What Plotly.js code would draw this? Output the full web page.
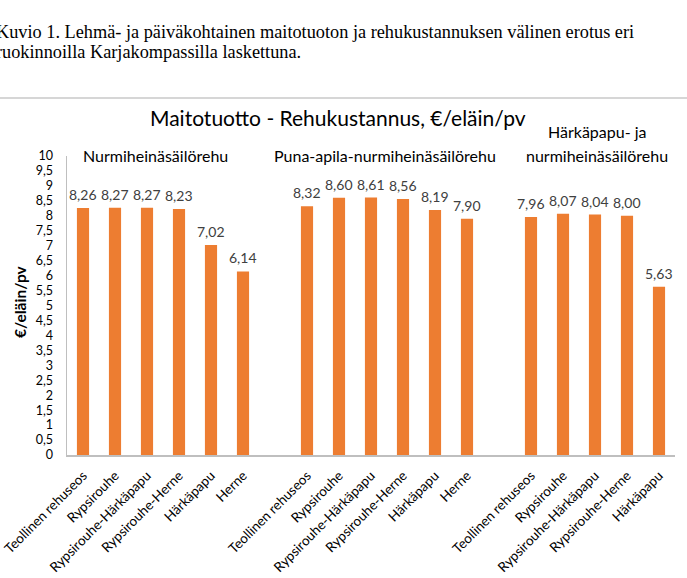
<!DOCTYPE html>
<html>
<head>
<meta charset="utf-8">
<script src="https://cdn.plot.ly/plotly-3.0.1.min.js"></script>
<style>
html,body{margin:0;padding:0;background:#fff;}
#chart{width:687px;height:578px;}
</style>
</head>
<body>
<div id="chart"></div>
<script>
// ---- data ----
const groupNames = ["Nurmiheinäsäilörehu", "Puna-apila-nurmiheinäsäilörehu", "Härkäpapu- ja<br>nurmiheinäsäilörehu"];
const catsNurmi = ["Teollinen rehuseos", "Rypsirouhe", "Rypsirouhe-Härkäpapu", "Rypsirouhe-Herne", "Härkäpapu", "Herne"];
const valsNurmi = [8.26, 8.27, 8.27, 8.23, 7.02, 6.14];
const catsPuna = ["Teollinen rehuseos", "Rypsirouhe", "Rypsirouhe-Härkäpapu", "Rypsirouhe-Herne", "Härkäpapu", "Herne"];
const valsPuna = [8.32, 8.60, 8.61, 8.56, 8.19, 7.90];
const catsHarka = ["Teollinen rehuseos", "Rypsirouhe", "Rypsirouhe-Härkäpapu", "Rypsirouhe-Herne", "Härkäpapu"];
const valsHarka = [7.96, 8.07, 8.04, 8.00, 5.63];
const chartTitle = "Maitotuotto - Rehukustannus, €/eläin/pv";
const yTitle = "€/eläin/pv";
const captionLines = ["Kuvio 1. Lehmä- ja päiväkohtainen maitotuoton ja rehukustannuksen välinen erotus eri",
                      "ruokinnoilla Karjakompassilla laskettuna."];

// ---- build positions (one empty slot between groups) ----
const groups = [[catsNurmi, valsNurmi], [catsPuna, valsPuna], [catsHarka, valsHarka]];
const xs = [], ys = [], labels = [];
let pos = 0;
groups.forEach(([cats, vals]) => {
  cats.forEach((c, i) => { xs.push(pos); ys.push(vals[i]); labels.push(c); pos++; });
  pos++; // gap
});
const xMax = pos - 2;

// pixel helpers (plot area: x 67..675, y 156..455)
const L = 67, R = 675, T = 156, B = 455;
const px = v => (v - L) / (R - L);
const py = v => (B - v) / (B - T);

const FONT = "Lato, 'Open Sans', sans-serif";
const SERIF = "'Liberation Serif', 'Times New Roman', serif";
const annotations = [];
function paperText(x, y, text, font, extra) {
  annotations.push(Object.assign({x: px(x), y: py(y), xref: 'paper', yref: 'paper', text: text,
    showarrow: false, xanchor: 'center', yanchor: 'middle', font: font}, extra || {}));
}
// data labels
xs.forEach((x, i) => {
  annotations.push({x: x, y: ys[i], xref: 'x', yref: 'y', text: ys[i].toFixed(2).replace('.', ','),
    showarrow: false, xanchor: 'center', yanchor: 'bottom', yshift: 3,
    font: {family: FONT, size: 14, color: '#404040'}});
});
// group labels
const gFont = {family: FONT, size: 16, color: '#000'};
paperText(155, 155, groupNames[0], gFont);
paperText(385, 155, groupNames[1], gFont);
const g3 = groupNames[2].split('<br>');
paperText(597, 131, g3[0], gFont);
paperText(597, 155, g3[1], gFont);
// chart title
paperText(338, 117, chartTitle, {family: FONT, size: 21, color: '#000'});
// y axis title
paperText(20, 302, '<b>' + yTitle + '</b>', {family: FONT, size: 15.5, color: '#000'}, {textangle: -90});
// caption
paperText(-6, 32, captionLines[0], {family: SERIF, size: 18.3, color: '#000'}, {xanchor: 'left'});
paperText(-6, 52, captionLines[1], {family: SERIF, size: 18.3, color: '#000'}, {xanchor: 'left'});

const trace = {
  type: 'bar', x: xs, y: ys, width: 0.38,
  marker: {color: '#ED7D31'}, hoverinfo: 'skip'
};

const layout = {
  width: 687, height: 578,
  margin: {l: L, r: 687 - R, t: T, b: 578 - B, pad: 0},
  paper_bgcolor: '#fff', plot_bgcolor: '#fff',
  separators: ',.',
  showlegend: false,
  font: {family: FONT, color: '#000'},
  xaxis: {
    range: [-0.5, xMax + 0.5], tickmode: 'array', tickvals: xs, ticktext: labels,
    tickangle: -45, showgrid: false, zeroline: false, showline: true, linecolor: '#bfbfbf', linewidth: 1.5,
    ticks: '', ticklabelstandoff: 6, tickfont: {family: FONT, size: 13.5, color: '#000'}, fixedrange: true
  },
  yaxis: {
    range: [0, 10], dtick: 0.5, tick0: 0, showgrid: false, zeroline: false,
    showline: true, linecolor: '#bfbfbf', linewidth: 1.5, ticks: '', ticklabelstandoff: 10,
    tickfont: {family: FONT, size: 12.5, color: '#000'}, fixedrange: true
  },
  annotations: annotations,
  shapes: [{type: 'line', xref: 'paper', yref: 'paper', x0: px(0), x1: px(687), y0: py(98), y1: py(98),
    line: {color: '#c8c8c8', width: 1.5}}]
};

Plotly.newPlot('chart', [trace], layout, {displayModeBar: false, staticPlot: true});
</script>
</body>
</html>
